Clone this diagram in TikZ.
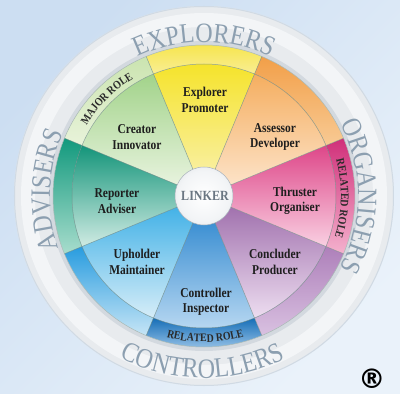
\documentclass[tikz,border=0pt]{standalone}
\usepackage{fontspec}
\usepackage{tikz}
\usetikzlibrary{decorations.text, positioning}
\newfontfamily\labelfont[FakeStretch=0.85]{Liberation Serif}
\newfontfamily\ringfont[FakeStretch=0.86]{Liberation Serif}
\newfontfamily\markfont{DejaVu Sans}
\definecolor{bgtop}{HTML}{CCDEF2}
\definecolor{bgbottom}{HTML}{EAF2FA}
\definecolor{ringfill}{HTML}{E8EBEE}
\definecolor{ringhi}{HTML}{F3F5F7}
\definecolor{ringshadow}{HTML}{D3D9DF}
\definecolor{ringout}{HTML}{D0DAE4}
\definecolor{pearlA}{HTML}{F2F4F6}
\definecolor{pearlB}{HTML}{D3D8DE}
\definecolor{pearlC}{HTML}{A9B2BB}
\definecolor{dividegray}{HTML}{6F8A84}
\definecolor{ringink}{HTML}{8C9FB0}
\definecolor{bandink}{HTML}{2A2A2A}
\definecolor{roletext}{HTML}{1E1E1E}
\definecolor{hubink}{HTML}{6A7682}
% sector colours: A dark, B light
\definecolor{explorerA}{HTML}{F5E328}
\definecolor{explorerB}{HTML}{FAF2B8}
\definecolor{assessorA}{HTML}{F5AE60}
\definecolor{assessorB}{HTML}{FDE8D2}
\definecolor{thrusterA}{HTML}{DE4789}
\definecolor{thrusterB}{HTML}{F9D0E2}
\definecolor{concluderA}{HTML}{9A68A8}
\definecolor{concluderB}{HTML}{EDDDF0}
\definecolor{controllerA}{HTML}{1E7ECB}
\definecolor{controllerB}{HTML}{BAD9F2}
\definecolor{upholderA}{HTML}{35ACE5}
\definecolor{upholderB}{HTML}{D6EDF8}
\definecolor{reporterA}{HTML}{14957A}
\definecolor{reporterB}{HTML}{D0EBE3}
\definecolor{creatorA}{HTML}{A2D38A}
\definecolor{creatorB}{HTML}{EEF6E6}
% band colours
\definecolor{explorerBandA}{HTML}{F6E446}
\definecolor{explorerBandB}{HTML}{F9EE95}
\definecolor{assessorBandA}{HTML}{F29F48}
\definecolor{assessorBandB}{HTML}{F8CA94}
\definecolor{thrusterBandA}{HTML}{D02F79}
\definecolor{thrusterBandB}{HTML}{F4B2CE}
\definecolor{concluderBandA}{HTML}{AE80BA}
\definecolor{concluderBandB}{HTML}{D9C1E1}
\definecolor{controllerBandA}{HTML}{166EB7}
\definecolor{controllerBandB}{HTML}{9EC7EA}
\definecolor{upholderBandA}{HTML}{289CDF}
\definecolor{upholderBandB}{HTML}{C6E5F6}
\definecolor{reporterBandA}{HTML}{12997D}
\definecolor{reporterBandB}{HTML}{A8DDCD}
\definecolor{creatorBandA}{HTML}{CBE4B0}
\definecolor{creatorBandB}{HTML}{E8F3DA}
\pgfdeclareradialshading{pearl}{\pgfpoint{0bp}{0bp}}{color(0bp)=(white); color(22bp)=(pearlA); color(40bp)=(pearlB); color(50bp)=(pearlC)}
\tikzstyle{lit} = [shading angle=45]
\tikzstyle{divider} = [draw=dividegray, line width=0.5pt, draw opacity=0.75]
\tikzstyle{rim} = [draw=dividegray!60, line width=0.5pt]
\tikzstyle{role} = [font=\labelfont\bfseries\fontsize{13.5}{15.5}\selectfont, align=center, text=roletext]
\tikzstyle{hub} = [font=\ringfont\bfseries\fontsize{14}{14}\selectfont, text=hubink]
\tikzstyle{ringtext} = [decorate, decoration={text along path, text align=center, text color=ringink}]
\tikzstyle{bandtext} = [decorate, decoration={text along path, text align=center, text color=bandink}]

\begin{document}
\begin{tikzpicture}[x=1pt, y=1pt]
        \useasboundingbox (-204,-198) rectangle (196,196);
        % Backdrop
        \shade[top color=bgtop, bottom color=bgbottom, shading angle=45] (-204,-198) rectangle (196,196);

        % Outer ring
        \fill[ringfill, even odd rule] (0,0) circle (190) circle (151);
        \draw[ringhi, line width=14pt] (0,0) circle (176);
        \draw[ringshadow, line width=4pt] (0,0) circle (153);
        \draw[ringout, line width=1pt] (0,0) circle (189.5);

        % Sectors
        \shade[lit, top color=explorerA, bottom color=explorerB] (0,0) -- (67.5:132) arc[start angle=67.5, end angle=112.5, radius=132] -- cycle;
        \shade[lit, top color=creatorA, bottom color=creatorB] (0,0) -- (112.5:132) arc[start angle=112.5, end angle=157.5, radius=132] -- cycle;
        \shade[lit, top color=reporterA, bottom color=reporterB] (0,0) -- (157.5:132) arc[start angle=157.5, end angle=202.5, radius=132] -- cycle;
        \shade[lit, top color=upholderA, bottom color=upholderB] (0,0) -- (202.5:132) arc[start angle=202.5, end angle=247.5, radius=132] -- cycle;
        \shade[lit, top color=controllerA, bottom color=controllerB] (0,0) -- (247.5:132) arc[start angle=247.5, end angle=292.5, radius=132] -- cycle;
        \shade[lit, top color=concluderA, bottom color=concluderB] (0,0) -- (292.5:132) arc[start angle=292.5, end angle=337.5, radius=132] -- cycle;
        \shade[lit, top color=thrusterA, bottom color=thrusterB] (0,0) -- (-22.5:132) arc[start angle=-22.5, end angle=22.5, radius=132] -- cycle;
        \shade[lit, top color=assessorA, bottom color=assessorB] (0,0) -- (22.5:132) arc[start angle=22.5, end angle=67.5, radius=132] -- cycle;

        % Role bands
        \shade[lit, top color=explorerBandA, bottom color=explorerBandB] (67.5:132) arc[start angle=67.5, end angle=112.5, radius=132] -- (112.5:151) arc[start angle=112.5, end angle=67.5, radius=151] -- cycle;
        \shade[lit, top color=creatorBandA, bottom color=creatorBandB] (112.5:132) arc[start angle=112.5, end angle=157.5, radius=132] -- (157.5:151) arc[start angle=157.5, end angle=112.5, radius=151] -- cycle;
        \shade[lit, top color=reporterBandA, bottom color=reporterBandB] (157.5:132) arc[start angle=157.5, end angle=202.5, radius=132] -- (202.5:151) arc[start angle=202.5, end angle=157.5, radius=151] -- cycle;
        \shade[lit, top color=upholderBandA, bottom color=upholderBandB] (202.5:132) arc[start angle=202.5, end angle=247.5, radius=132] -- (247.5:151) arc[start angle=247.5, end angle=202.5, radius=151] -- cycle;
        \shade[lit, top color=controllerBandA, bottom color=controllerBandB] (247.5:132) arc[start angle=247.5, end angle=292.5, radius=132] -- (292.5:151) arc[start angle=292.5, end angle=247.5, radius=151] -- cycle;
        \shade[lit, top color=concluderBandA, bottom color=concluderBandB] (292.5:132) arc[start angle=292.5, end angle=337.5, radius=132] -- (337.5:151) arc[start angle=337.5, end angle=292.5, radius=151] -- cycle;
        \shade[lit, top color=thrusterBandA, bottom color=thrusterBandB] (-22.5:132) arc[start angle=-22.5, end angle=22.5, radius=132] -- (22.5:151) arc[start angle=22.5, end angle=-22.5, radius=151] -- cycle;
        \shade[lit, top color=assessorBandA, bottom color=assessorBandB] (22.5:132) arc[start angle=22.5, end angle=67.5, radius=132] -- (67.5:151) arc[start angle=67.5, end angle=22.5, radius=151] -- cycle;

        % Dividers
        \draw[divider] (0,0) circle (132);
        \draw[rim] (0,0) circle (151);
        \draw[divider] (22.5:29) -- (22.5:151);
        \draw[divider] (67.5:29) -- (67.5:151);
        \draw[divider] (112.5:29) -- (112.5:151);
        \draw[divider] (157.5:29) -- (157.5:151);
        \draw[divider] (202.5:29) -- (202.5:151);
        \draw[divider] (247.5:29) -- (247.5:151);
        \draw[divider] (292.5:29) -- (292.5:151);
        \draw[divider] (337.5:29) -- (337.5:151);

        % Centre
        \shadedraw[shading=pearl, draw=pearlC, line width=0.5pt] (0,0) circle (29);
        \node[hub] (linker) at (1,0) {LINKER};

        % Role labels
        \node[role] (explorer) at (1,96) {Explorer\\Promoter};
        \node[role] (assessor) at (71,59) {Assessor\\Developer};
        \node[role] (thruster) at (91,-5) {Thruster\\Organiser};
        \node[role] (concluder) at (71,-66) {Concluder\\Producer};
        \node[role] (controller) at (2,-106) {Controller\\Inspector};
        \node[role] (upholder) at (-67,-66) {Upholder\\Maintainer};
        \node[role] (reporter) at (-87,-5) {Reporter\\Adviser};
        \node[role] (creator) at (-67,59) {Creator\\Innovator};

        % Ring titles
        \path[ringtext, decoration={text={|\ringfont\fontsize{28}{30}\selectfont|EXPLORERS}}] (125:154) arc[start angle=125, end angle=55, radius=154];
        \path[ringtext, decoration={text={|\ringfont\fontsize{28}{30}\selectfont|ORGANISERS}}] (40:154) arc[start angle=40, end angle=-40, radius=154];
        \path[ringtext, decoration={text={|\ringfont\fontsize{28}{30}\selectfont|ADVISERS}}] (218:154) arc[start angle=218, end angle=138, radius=154];
        \path[ringtext, decoration={text={|\ringfont\fontsize{28}{30}\selectfont|CONTROLLERS}}] (220:182) arc[start angle=220, end angle=319, radius=182];

        % Band titles
        \path[bandtext, decoration={text={|\ringfont\bfseries\fontsize{11.5}{12}\selectfont|MAJOR ROLE}}] (165:137) arc[start angle=165, end angle=105, radius=137];
        \path[bandtext, decoration={text={|\ringfont\bfseries\fontsize{11.5}{12}\selectfont|RELATED ROLE}}] (29:137) arc[start angle=29, end angle=-31, radius=137];
        \path[bandtext, decoration={text={|\ringfont\bfseries\fontsize{11.5}{12}\selectfont|RELATED ROLE}}] (240:146) arc[start angle=240, end angle=301, radius=146];

        % Mark
        \node[font=\markfont\bfseries\fontsize{27}{27}\selectfont] (mark) at (168,-183) {®};
    \end{tikzpicture}
\end{document}
